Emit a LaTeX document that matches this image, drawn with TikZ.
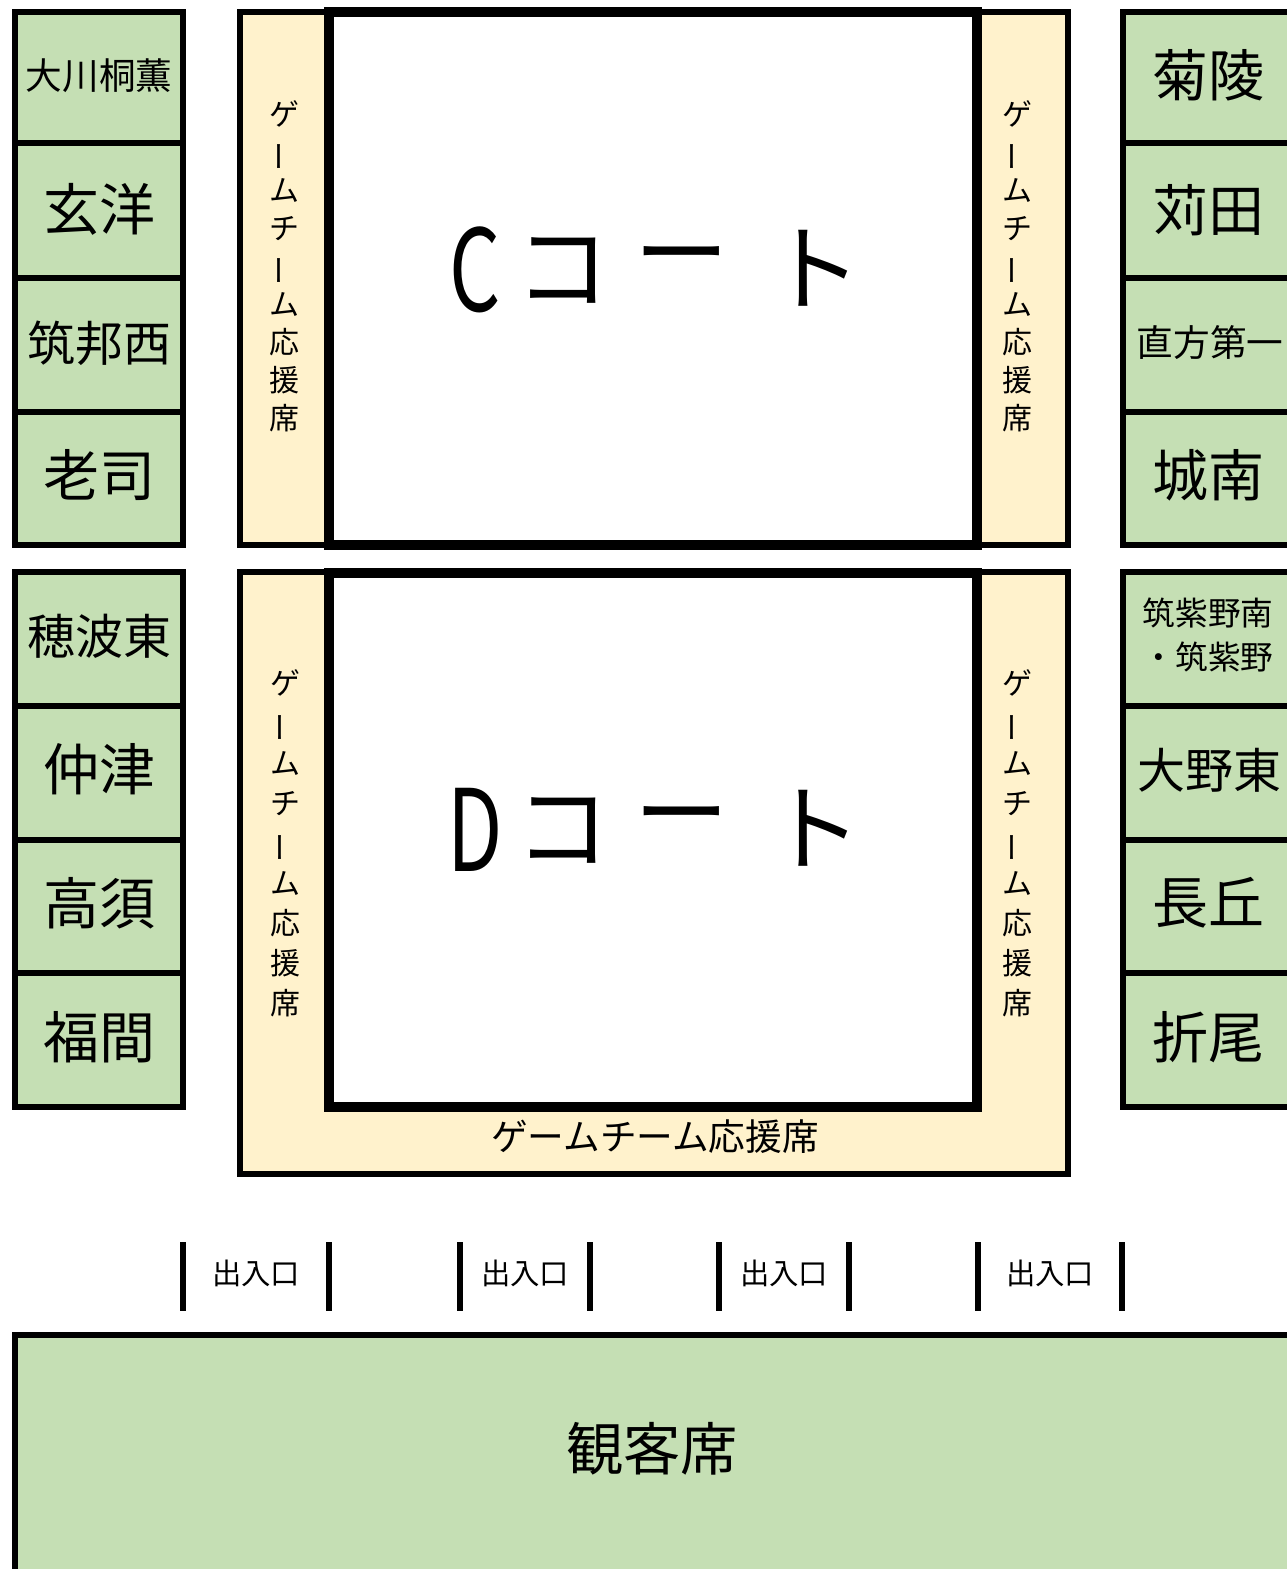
\documentclass[tikz,border=0pt]{standalone}
\usepackage{fontspec}
\usepackage{graphicx}
\setmainfont{Noto Sans CJK JP}
\definecolor{seatgreen}{HTML}{C5DFB4}
\definecolor{seatyellow}{HTML}{FFF2CC}
\newcommand\vchou{\rotatebox[origin=c]{90}{ー}}
\tikzset{
 team/.style={draw=black, line width=4.5pt, fill=seatgreen},
 support/.style={draw=black, line width=4.5pt, fill=seatyellow},
 courtbox/.style={draw=black, line width=8pt, fill=white},
 doorbar/.style={draw=black, line width=5pt},
 lbl/.style={inner sep=0pt, text=black},
 ttwo/.style={lbl, font=\fontsize{42}{50}\selectfont},
 tthree/.style={lbl, font=\fontsize{36}{44}\selectfont},
 tfour/.style={lbl, font=\fontsize{27.5}{33}\selectfont},
 tfours/.style={lbl, font=\fontsize{24.5}{33}\selectfont, align=center},
 vtxtC/.style={lbl, align=center, font=\fontsize{22.5}{28.5}\selectfont},
 vtxtD/.style={lbl, align=center, font=\fontsize{22.5}{30}\selectfont},
 courtlbl/.style={lbl, font=\fontsize{71}{80}\selectfont},
 doorlbl/.style={lbl, font=\fontsize{22}{26}\selectfont},
 hlbl/.style={lbl, font=\fontsize{27.5}{33}\selectfont},
 halllbl/.style={lbl, font=\fontsize{43}{50}\selectfont},
}
\begin{document}
\begin{tikzpicture}[x=0.75pt,y=-0.75pt]
\useasboundingbox (0,0) rectangle (1287,1569);
\clip (0,0) rectangle (1287,1569);
\fill[white] (0,0) rectangle (1287,1569);

% left team boxes
\filldraw[team] (15,12) rectangle (183,143);
\filldraw[team] (15,143) rectangle (183,278);
\filldraw[team] (15,278) rectangle (183,412);
\filldraw[team] (15,412) rectangle (183,545);
\filldraw[team] (15,572) rectangle (183,706);
\filldraw[team] (15,706) rectangle (183,840);
\filldraw[team] (15,840) rectangle (183,973);
\filldraw[team] (15,973) rectangle (183,1107);
% right team boxes
\filldraw[team] (1123,12) rectangle (1298,143);
\filldraw[team] (1123,143) rectangle (1298,278);
\filldraw[team] (1123,278) rectangle (1298,412);
\filldraw[team] (1123,412) rectangle (1298,545);
\filldraw[team] (1123,572) rectangle (1298,706);
\filldraw[team] (1123,706) rectangle (1298,840);
\filldraw[team] (1123,840) rectangle (1298,973);
\filldraw[team] (1123,973) rectangle (1298,1107);

% support areas and courts
\filldraw[support] (240,12) rectangle (1068,545);
\filldraw[courtbox] (329,12) rectangle (977,545);
\filldraw[support] (240,572) rectangle (1068,1174);
\filldraw[courtbox] (329,573) rectangle (977,1107);

% audience
\filldraw[team] (15,1335) rectangle (1300,1600);

% left names
\node[tfour]  (l1) at (99,76)  {大川桐薫};
\node[ttwo]   (l2) at (99,209) {玄洋};
\node[tthree] (l3) at (99,343) {筑邦西};
\node[ttwo]   (l4) at (99,475) {老司};
\node[tthree] (l5) at (99,636) {穂波東};
\node[ttwo]   (l6) at (99,769) {仲津};
\node[ttwo]   (l7) at (99,903) {高須};
\node[ttwo]   (l8) at (99,1037) {福間};
% right names
\node[ttwo]   (r1) at (1208,75)  {菊陵};
\node[ttwo]   (r2) at (1208,210) {苅田};
\node[tfour]  (r3) at (1210,343) {直方第一};
\node[ttwo]   (r4) at (1208,475) {城南};
\node[tfours] (r5) at (1208,635) {筑紫野南\\・筑紫野};
\node[tthree] (r6) at (1209,770) {大野東};
\node[ttwo]   (r7) at (1208,903) {長丘};
\node[ttwo]   (r8) at (1208,1037) {折尾};

% vertical support labels
\node[vtxtC] (vcl) at (284,266) {ゲ\\\vchou\\ム\\チ\\\vchou\\ム\\応\\援\\席};
\node[vtxtC] (vcr) at (1017,266) {ゲ\\\vchou\\ム\\チ\\\vchou\\ム\\応\\援\\席};
\node[vtxtD] (vdl) at (285,843) {ゲ\\\vchou\\ム\\チ\\\vchou\\ム\\応\\援\\席};
\node[vtxtD] (vdr) at (1017,843) {ゲ\\\vchou\\ム\\チ\\\vchou\\ム\\応\\援\\席};
\node[hlbl] (hd) at (655,1137) {ゲームチーム応援席};

% court labels
\node[courtlbl] (c1) at (475,270) {\scalebox{0.85}[1.2]{C}};
\node[courtlbl] (c2) at (563,270) {コ};
\node[courtlbl] (c3) at (682,267) {ー};
\node[courtlbl] (c4) at (815,268) {ト};
\node[courtlbl] (d1) at (475,830) {\scalebox{0.85}[1.2]{D}};
\node[courtlbl] (d2) at (563,830) {コ};
\node[courtlbl] (d3) at (682,827) {ー};
\node[courtlbl] (d4) at (815,828) {ト};

% entrances
\foreach \bx in {183,329,460,590,719,849,978,1122}
  \draw[doorbar] (\bx,1242) -- (\bx,1311);
\node[doorlbl] (e1) at (256,1273) {出入口};
\node[doorlbl] (e2) at (525,1273) {出入口};
\node[doorlbl] (e3) at (784,1273) {出入口};
\node[doorlbl] (e4) at (1050,1273) {出入口};

\node[halllbl] (hall) at (652,1449) {観客席};
\end{tikzpicture}
\end{document}
